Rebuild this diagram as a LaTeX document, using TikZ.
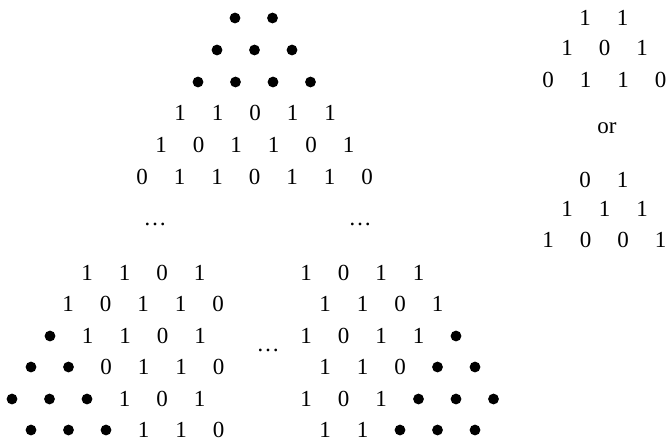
\documentclass[tikz,border=0pt]{standalone}
\usepackage{fontspec}
\setmainfont{Liberation Serif}
\def\pebblemark{b}
% one row of a triangle: name, x of first entry, y, entries (b = black dot)
\newcommand{\trirow}[4]{%
  \foreach \v [count=\i] in {#4}{%
    \ifx\v\pebblemark
      \node[pebble] (#1-\i) at ({#2+(\i-1)*37.5},#3) {};
    \else
      \node[bit] (#1-\i) at ({#2+(\i-1)*37.5},#3) {\v};
    \fi
  }}
\tikzset{
  bit/.style={inner sep=0pt,font=\fontsize{11.5}{13}\selectfont},
  pebble/.style={circle,fill=black,inner sep=0pt,minimum size=5.4pt},
  gap/.style={inner sep=0pt,font=\fontsize{11.5}{13}\selectfont},
  orword/.style={inner sep=0pt,font=\fontsize{11.5}{13}\selectfont}
}
\begin{document}
\begin{tikzpicture}[x=0.5pt,y=-0.5pt]
  \useasboundingbox (0,0) rectangle (668,441);

  % top triangle
  \trirow{t1}{235}{18}{b,b}
  \trirow{t2}{217}{50}{b,b,b}
  \trirow{t3}{198}{82}{b,b,b,b}
  \trirow{t4}{180}{113}{1,1,0,1,1}
  \trirow{t5}{161}{145}{1,0,1,1,0,1}
  \trirow{t6}{142}{177}{0,1,1,0,1,1,0}

  \node[gap] (gapL) at (155,224) {\ldots};
  \node[gap] (gapR) at (360,224) {\ldots};

  % bottom left triangle
  \trirow{l1}{87}{273}{1,1,0,1}
  \trirow{l2}{68}{304}{1,0,1,1,0}
  \trirow{l3}{50}{336}{b,1,1,0,1}
  \trirow{l4}{31}{367}{b,b,0,1,1,0}
  \trirow{l5}{12}{399}{b,b,b,1,0,1}
  \trirow{l6}{31}{430}{b,b,b,1,1,0}

  \node[gap] (gapM) at (268,350) {\ldots};

  % bottom right triangle
  \trirow{r1}{306}{273}{1,0,1,1}
  \trirow{r2}{325}{304}{1,1,0,1}
  \trirow{r3}{306}{336}{1,0,1,1,b}
  \trirow{r4}{325}{367}{1,1,0,b,b}
  \trirow{r5}{306}{399}{1,0,1,b,b,b}
  \trirow{r6}{325}{430}{1,1,b,b,b}

  % the two small cases
  \trirow{a1}{585}{18}{1,1}
  \trirow{a2}{567}{48}{1,0,1}
  \trirow{a3}{548}{80}{0,1,1,0}
  \node[orword] (or) at (607,128) {or};
  \trirow{c1}{585}{180}{0,1}
  \trirow{c2}{567}{209}{1,1,1}
  \trirow{c3}{548}{240}{1,0,0,1}
\end{tikzpicture}
\end{document}
